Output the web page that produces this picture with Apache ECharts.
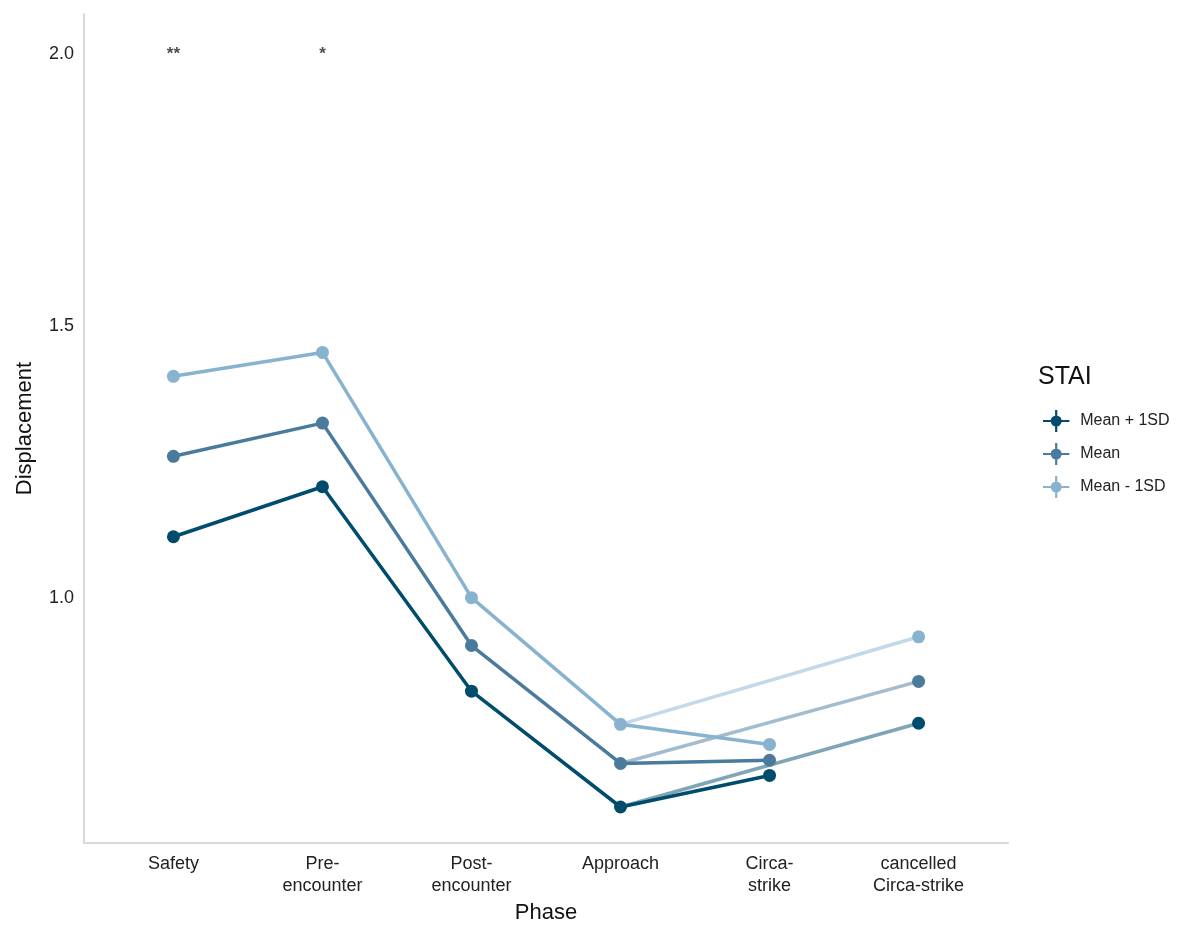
<!DOCTYPE html>
<html>
<head>
<meta charset="utf-8">
<script src="https://cdn.jsdelivr.net/npm/echarts@6/dist/echarts.min.js"></script>
<style>
html, body { margin: 0; padding: 0; background: #fff; }
#main { width: 1193px; height: 929px; }
</style>
</head>
<body>
<div id="main"></div>
<script>
var categories = ['Safety', 'Pre-\nencounter', 'Post-\nencounter', 'Approach', 'Circa-\nstrike', 'cancelled\nCirca-strike'];
var groups = ['Mean + 1SD', 'Mean', 'Mean - 1SD'];
var meanPlus1SD = [1.112, 1.204, 0.828, 0.615, 0.673, 0.769];
var meanSTAI = [1.260, 1.321, 0.912, 0.695, 0.701, 0.846];
var meanMinus1SD = [1.407, 1.451, 1.000, 0.767, 0.730, 0.928];
var yTicks = [1.0, 1.5, 2.0];
var stars = [[0, 2.0, '**'], [1, 2.0, '*']];

var colors = ['#004c6d', '#4a7b9d', '#88b3d0'];
var values = [meanPlus1SD, meanSTAI, meanMinus1SD];

var legendIcon = 'path://M0,9H24V11H0Z M11,0H13V20H11Z M12,5A5,5 0 1 1 11.99,5Z';

var series = [];
values.forEach(function (vals, g) {
	// faded segment from Approach to cancelled Circa-strike
	series.push({
		name: groups[g] + ' (cancelled)',
		type: 'line',
		data: [[3, vals[3]], [5, vals[5]]],
		symbol: 'none',
		lineStyle: { color: colors[g], width: 3.5, opacity: 0.5 },
		silent: true,
		z: 1
	});
});
values.forEach(function (vals, g) {
	series.push({
		name: groups[g],
		type: 'line',
		data: vals.slice(0, 5).map(function (v, i) { return [i, v]; }),
		symbol: 'circle',
		symbolSize: 13,
		itemStyle: { color: colors[g], opacity: 1 },
		lineStyle: { color: colors[g], width: 3.5 },
		z: 3
	});
	series.push({
		name: groups[g],
		type: 'scatter',
		data: [[5, vals[5]]],
		symbol: 'circle',
		symbolSize: 13,
		itemStyle: { color: colors[g], opacity: 1 },
		z: 3
	});
});
series.push({
	name: 'sig',
	type: 'scatter',
	data: stars,
	symbolSize: 1,
	itemStyle: { color: 'transparent' },
	label: {
		show: true,
		position: 'inside',
		formatter: function (p) { return p.data[2]; },
		color: '#222',
		fontSize: 17,
		fontWeight: 'bold',
		fontFamily: 'Liberation Sans'
	}
});

var myChart = echarts.init(document.getElementById('main'));
var option = {
	backgroundColor: '#fff',
	animation: false,
	textStyle: { fontFamily: 'Liberation Sans' },
	grid: { left: 84, right: 185, top: 14, bottom: 69 },
	title: {
		text: 'STAI',
		left: 1033,
		top: 360,
		textStyle: { fontSize: 25, fontWeight: 'normal', color: '#111', fontFamily: 'Liberation Sans' }
	},
	legend: {
		data: groups,
		orient: 'vertical',
		left: 1038,
		top: 405,
		itemWidth: 38,
		itemHeight: 22,
		itemGap: 11,
		icon: legendIcon,
		textStyle: { fontSize: 16, color: '#222', fontFamily: 'Liberation Sans' }
	},
	xAxis: {
		type: 'value',
		min: -0.6,
		max: 5.6,
		name: 'Phase',
		nameLocation: 'middle',
		nameGap: 58,
		nameTextStyle: { fontSize: 22, color: '#111' },
		axisLine: { show: true, onZero: false, lineStyle: { color: '#d9d9d9', width: 2 } },
		axisTick: { show: false },
		splitLine: { show: false },
		axisLabel: {
			customValues: [0, 1, 2, 3, 4, 5],
			formatter: function (v) { return categories[Math.round(v)]; },
			fontSize: 18,
			lineHeight: 22,
			color: '#222',
			margin: 10
		}
	},
	yAxis: {
		type: 'value',
		min: 0.5486,
		max: 2.0734,
		name: 'Displacement',
		nameLocation: 'middle',
		nameGap: 48,
		nameTextStyle: { fontSize: 22, color: '#111' },
		axisLine: { show: true, onZero: false, lineStyle: { color: '#d9d9d9', width: 2 } },
		axisTick: { show: false },
		splitLine: { show: false },
		axisLabel: {
			customValues: yTicks,
			formatter: function (v) { return v.toFixed(1); },
			fontSize: 18,
			color: '#222',
			margin: 10
		}
	},
	series: series
};
if (option && typeof option === 'object') {
	myChart.setOption(option, true);
}
</script>
</body>
</html>
